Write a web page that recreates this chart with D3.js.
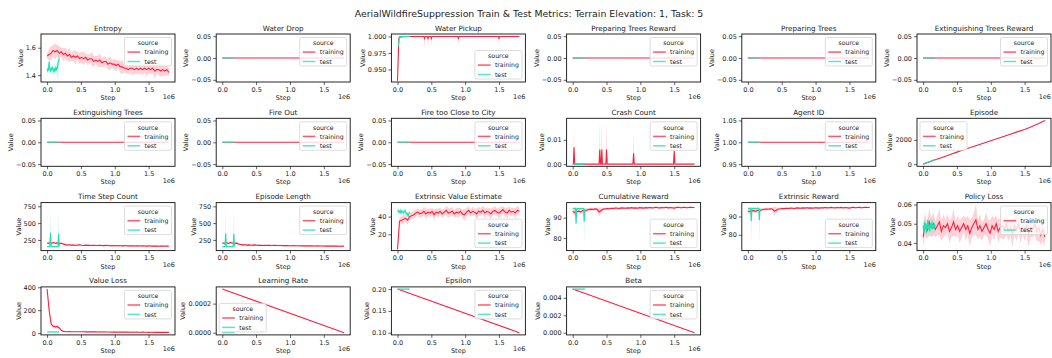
<!DOCTYPE html>
<html><head><meta charset="utf-8">
<script src="https://cdn.jsdelivr.net/npm/d3@7"></script>
<style>
body{margin:0;background:#fff}
svg{display:block}
text{font-family:"DejaVu Sans",sans-serif;fill:#222}
</style>
</head><body>
<svg id="c" width="1052" height="358"></svg>
<script>
// ---------------- DATA ----------------
const chartTitle = "AerialWildfireSuppression Train & Test Metrics: Terrain Elevation: 1, Task: 5";
const seriesNames = ["training", "test"];
const seriesColors = ["#ff1f3d", "#1fe0b0"];
const xTickValues = [0, 5e5, 1e6, 1.5e6];
const xTickLabels = ["0.0", "0.5", "1.0", "1.5"];
const xDomain = [-9e4, 1.89e6];

const trainStep = [0,3e4,6e4,9e4,12e4,15e4,18e4,21e4,24e4,27e4,30e4,33e4,36e4,39e4,42e4,45e4,48e4,51e4,54e4,57e4,60e4,63e4,66e4,69e4,72e4,75e4,78e4,81e4,84e4,87e4,90e4,93e4,96e4,99e4,102e4,105e4,108e4,111e4,114e4,117e4,120e4,123e4,126e4,129e4,132e4,135e4,138e4,141e4,144e4,147e4,150e4,153e4,156e4,159e4,162e4,165e4,168e4,171e4,174e4,177e4,180e4];
const testStep = [0,1e4,2e4,3e4,4e4,5e4,6e4,7e4,8e4,9e4,10e4,11e4,12e4,13e4,14e4,15e4,16e4,17e4,18e4];
const flatTrainStep = [0, 18e5];
const flatTestStep = [0, 18e4];
const flatZero = [0, 0];
const flatOne = [1, 1];

// Entropy
const entropyTrain = [1.54,1.55,1.56,1.58,1.57,1.58,1.56,1.57,1.55,1.56,1.54,1.55,1.53,1.54,1.53,1.54,1.52,1.53,1.52,1.53,1.51,1.52,1.52,1.50,1.51,1.50,1.51,1.49,1.50,1.50,1.48,1.49,1.48,1.48,1.47,1.48,1.46,1.46,1.45,1.45,1.44,1.45,1.45,1.44,1.45,1.44,1.45,1.44,1.45,1.44,1.45,1.44,1.45,1.43,1.44,1.44,1.43,1.44,1.43,1.44,1.42];
const entropyTrainSpread = [0.02,0.04,0.05,0.04,0.06,0.04,0.05,0.03,0.05,0.04,0.04,0.05,0.03,0.04,0.05,0.03,0.04,0.04,0.05,0.03,0.04,0.03,0.05,0.04,0.03,0.04,0.05,0.03,0.04,0.03,0.04,0.05,0.03,0.04,0.04,0.03,0.04,0.05,0.03,0.04,0.03,0.04,0.05,0.03,0.04,0.03,0.04,0.04,0.03,0.05,0.04,0.03,0.04,0.05,0.03,0.04,0.04,0.05,0.03,0.04,0.03];
const entropyTest = [1.45,1.43,1.44,1.50,1.44,1.43,1.45,1.44,1.46,1.44,1.42,1.45,1.43,1.46,1.44,1.45,1.48,1.50,1.52];
const entropyTestSpread = [0.02,0.03,0.03,0.04,0.03,0.02,0.03,0.04,0.03,0.04,0.03,0.03,0.04,0.03,0.04,0.06,0.16,0.08,0.04];

// Water Pickup
const waterStep = [0,1e4,2e4,3e4,10e4,39e4,40e4,41e4,44e4,45e4,46e4,49e4,50e4,51e4,89e4,90e4,91e4,149e4,150e4,151e4,180e4];
const waterTrain = [0.933,0.965,0.997,0.999,1,1,0.997,1,1,0.997,1,1,0.997,1,1,0.997,1,1,0.997,1,1];
const waterTrainLo = [0.933,0.95,0.99,0.998,1,1,0.982,1,1,0.982,1,1,0.985,1,1,0.986,1,1,0.985,1,1];
const waterTrainHi = [0.933,0.98,1,1,1,1,1,1,1,1,1,1,1,1,1,1,1,1,1,1,1];
const waterTestStep = [1e4,3e4,10e4,18e4];
const waterTest = [0.985,1,1,1];

// Crash Count
const crashStep = [0,1e4,2e4,3e4,4e4,10e4,20e4,30e4,39e4,40e4,41e4,42e4,43e4,44e4,45e4,49e4,50e4,51e4,60e4,89e4,90e4,91e4,100e4,149e4,150e4,151e4,160e4,180e4];
const crashTrain = [0,0,0.007,0,0,0,0,0,0,0.006,0,0,0.006,0,0,0,0.006,0,0,0,0.0045,0,0,0,0.0055,0,0,0];
const crashTrainHi = [0,0,0.014,0,0,0,0,0,0,0.018,0,0,0.018,0,0,0,0.017,0,0,0,0.014,0,0,0,0.0055,0,0,0];

// Episode
const episodeStep = [0,1e5,2e5,3e5,4e5,5e5,6e5,7e5,8e5,9e5,10e5,11e5,12e5,13e5,14e5,15e5,16e5,17e5,18e5];
const episodeTrain = [0,200,400,590,790,990,1180,1370,1560,1750,1930,2120,2300,2490,2680,2860,3090,3330,3600];
const episodeTestStep = [0,5e4,10e4,15e4,18e4];
const episodeTest = [0,110,220,330,400];

// Time Step Count
const timeStepTrain = [200,205,198,210,200,205,195,200,190,180,175,178,172,175,170,172,178,170,168,172,169,171,167,170,168,166,169,167,165,168,166,164,167,165,163,166,164,162,165,163,161,164,162,160,163,161,159,162,160,158,161,159,157,160,158,156,159,157,155,158,155];
const timeStepTrainSpread = [15,20,18,25,15,20,18,15,20,15,12,10,12,14,10,12,15,10,12,10,11,12,10,13,10,12,11,10,12,11,10,12,11,10,12,10,11,12,10,11,10,12,11,10,12,11,10,12,11,10,11,12,10,11,12,10,11,10,12,11,10];
const timeStepTest = [150,150,152,148,150,355,150,148,152,150,149,151,150,148,150,152,150,340,150];
const timeStepTestLo = [145,145,147,143,145,150,145,143,147,145,144,146,145,143,145,147,145,150,145];
const timeStepTestHi = [155,155,157,153,155,760,155,153,157,155,154,156,155,153,155,157,155,740,155];

// Episode Length
const epLenTrain = [205,200,208,198,212,203,196,202,188,182,176,177,173,176,171,173,176,171,169,171,168,170,168,169,167,167,168,166,166,167,165,165,166,164,164,165,163,163,164,162,162,163,161,161,162,160,160,161,159,159,160,158,158,159,157,157,158,156,156,157,155];
const epLenTrainSpread = [18,22,15,25,18,20,15,18,20,15,12,11,13,12,10,12,14,11,12,10,12,11,10,13,11,12,10,11,12,10,11,12,10,11,12,10,11,12,10,11,10,12,11,10,12,11,10,12,11,10,11,12,10,11,12,10,11,10,12,11,10];
const epLenTest = [150,151,149,150,148,350,150,151,149,150,152,148,150,151,149,150,151,342,150];
const epLenTestLo = [145,146,144,145,143,150,145,146,144,145,147,143,145,146,144,145,146,150,145];
const epLenTestHi = [155,156,154,155,153,755,155,156,154,155,157,153,155,156,154,155,156,745,155];

// Extrinsic Value Estimate
const valueEstTrain = [3,35,36,37,38,36,40,41,42,44,45,43,44,46,43,45,44,46,42,45,44,46,43,45,47,44,45,46,43,45,44,46,43,42,45,47,44,46,45,43,46,45,47,44,46,45,43,46,47,45,44,46,48,45,44,47,45,46,44,47,46];
const valueEstTrainSpread = [1,5,4,5,4,5,4,4,5,4,4,5,4,5,6,4,5,4,6,4,5,4,5,4,5,6,4,5,4,5,6,4,5,7,4,5,4,5,4,6,5,4,5,6,4,5,6,4,5,4,6,5,4,5,6,4,5,4,6,5,4];
const valueEstTest = [46,47,45,46,44,47,45,46,45,44,46,47,45,43,44,42,41,44,45];
const valueEstTestSpread = [2,3,2,3,2,3,2,2,3,2,3,2,3,2,3,2,3,2,2];

// Cumulative Reward
const cumRewardTrain = [93,92.5,93,93.2,92.8,93.5,93.3,93.8,94,94.2,94,94.3,94.1,92.8,93.5,94.2,94.3,94.5,94.4,94.6,94.5,94.7,94.6,94.5,94.8,94.7,94.6,94.8,94.7,94.9,94.7,94.8,94.6,94.9,94.8,94.7,94.9,94.8,95,94.8,94.9,95.1,94.9,94.8,95,94.9,95.1,94.8,95,94.9,94.7,95,95.1,94.9,95,95.1,94.9,95,95.1,95,95];
const cumRewardTrainSpread = [1,1.5,1.2,1,1.3,1,0.8,0.9,0.7,0.8,0.7,0.6,0.7,2.2,1.5,0.6,0.7,0.5,0.6,0.5,0.6,0.5,0.6,0.7,0.5,0.6,0.5,0.6,0.5,0.4,0.6,0.5,0.6,0.4,0.5,0.6,0.4,0.5,0.4,0.5,0.4,0.5,0.4,0.5,0.4,0.5,0.4,0.5,0.4,0.5,0.8,0.4,0.5,0.4,0.5,0.4,0.5,0.4,0.5,0.4,0.4];
const cumRewardTest = [94.5,94.6,94.4,94.5,94.6,87,94.5,94.4,94.6,94.5,94.3,94.6,94.5,94.4,94.6,94.5,94.5,88,94.5];
const cumRewardTestLo = [94,94.1,93.9,94,94.1,80,94,93.9,94.1,94,93.8,94.1,94,93.9,94.1,94,94,75,94];
const cumRewardTestHi = [95,95.1,94.9,95,95.1,94.6,95,94.9,95.1,95,94.8,95.1,95,94.9,95.1,95,95,94.6,95];

// Extrinsic Reward
const extRewardTrain = [93,92.6,93.1,93.2,92.9,93.4,93.3,93.7,94,94.1,94,94.2,94.1,93,93.4,94.1,94.2,94.4,94.3,94.5,94.4,94.6,94.5,94.4,94.7,94.6,94.5,94.7,94.6,94.8,94.6,94.7,94.5,94.8,94.7,94.6,94.8,94.7,94.9,94.7,94.8,95,94.8,94.7,94.9,94.8,95,94.7,94.9,94.8,94.6,94.9,95,94.8,94.9,95,94.8,94.9,95,94.9,94.9];
const extRewardTrainSpread = [1,1.4,1.2,1,1.3,1,0.8,0.9,0.7,0.8,0.7,0.6,0.7,2.5,1.6,0.6,0.7,0.5,0.6,0.5,0.6,0.5,0.6,0.7,0.5,0.6,0.5,0.6,0.5,0.4,0.6,0.5,0.6,0.4,0.5,0.6,0.4,0.5,0.4,0.5,0.4,0.5,0.4,0.5,0.4,0.5,0.4,0.5,0.4,0.5,0.8,0.4,0.5,0.4,0.5,0.4,0.5,0.4,0.5,0.4,0.4];
const extRewardTest = [94.4,94.5,94.3,94.5,94.6,87.5,94.5,94.3,94.6,94.4,94.3,94.5,94.4,94.3,94.6,94.4,94.5,88,94.4];
const extRewardTestLo = [93.9,94,93.8,94,94.1,72.5,94,93.8,94.1,93.9,93.8,94,93.9,93.8,94.1,93.9,94,75,93.9];
const extRewardTestHi = [94.9,95,94.8,95,95.1,94.5,95,94.8,95.1,94.9,94.8,95,94.9,94.8,95.1,94.9,95,94.5,94.9];

// Policy Loss
const policyTrain = [0.043,0.050,0.046,0.051,0.048,0.050,0.047,0.049,0.051,0.046,0.049,0.048,0.050,0.046,0.048,0.051,0.047,0.049,0.046,0.048,0.050,0.047,0.049,0.045,0.048,0.050,0.052,0.047,0.049,0.046,0.048,0.050,0.047,0.045,0.049,0.047,0.050,0.046,0.048,0.049,0.047,0.050,0.046,0.048,0.045,0.049,0.047,0.050,0.046,0.048,0.047,0.049,0.045,0.048,0.047,0.050,0.046,0.048,0.044,0.047,0.043];
const policyTrainSpread = [0.005,0.006,0.004,0.007,0.005,0.006,0.004,0.005,0.007,0.005,0.006,0.004,0.005,0.006,0.005,0.007,0.004,0.005,0.006,0.005,0.004,0.006,0.005,0.007,0.005,0.006,0.008,0.005,0.006,0.005,0.004,0.006,0.005,0.007,0.005,0.006,0.004,0.006,0.005,0.007,0.005,0.006,0.005,0.004,0.007,0.005,0.006,0.005,0.006,0.004,0.006,0.005,0.007,0.005,0.004,0.006,0.005,0.007,0.005,0.006,0.005];
const policyTest = [0.049,0.046,0.051,0.047,0.050,0.045,0.049,0.052,0.047,0.049,0.046,0.050,0.048,0.051,0.047,0.049,0.048,0.050,0.048];
const policyTestSpread = [0.003,0.004,0.003,0.005,0.003,0.004,0.003,0.004,0.005,0.003,0.004,0.003,0.004,0.003,0.005,0.004,0.003,0.004,0.003];

// Value Loss
const valueLossTrain = [385,200,80,60,55,58,45,25,15,14,13,14,13,12,13,12,13,12,12,11,12,11,12,11,11,10,11,10,11,10,10,10,9,10,9,10,9,9,10,9,9,8,9,8,9,8,8,9,8,8,7,8,8,7,8,7,7,8,7,7,7];
const valueLossTrainSpread = [5,20,15,12,15,18,10,6,4,3,2,2,2,2,2,2,2,2,2,2,2,2,2,2,2,2,2,2,2,2,2,2,2,2,2,2,2,2,2,2,2,2,2,2,2,2,2,2,2,2,2,2,2,2,2,2,2,2,2,2,2];
const valueLossTest = [8,10,12,9,11,10,12,9,10,11,10,9,12,10,11,10,9,11,10];

// Learning Rate, Epsilon, Beta
const lrTrain = [3e-4, 0];
const lrTest = [0, 0];
const epsilonTrain = [0.2, 0.1];
const epsilonTest = [0.2, 0.2];
const betaTrain = [0.005, 0];
const betaTest = [0.005, 0.005];

// Panel titles, y domains, ticks, tick labels, legend locations
const panelTitles = ["Entropy","Water Drop","Water Pickup","Preparing Trees Reward","Preparing Trees","Extinguishing Trees Reward",
  "Extinguishing Trees","Fire Out","Fire too Close to City","Crash Count","Agent ID","Episode",
  "Time Step Count","Episode Length","Extrinsic Value Estimate","Cumulative Reward","Extrinsic Reward","Policy Loss",
  "Value Loss","Learning Rate","Epsilon","Beta"];
const zeroDomain = [-0.055, 0.055], zeroTicks = [-0.05, 0, 0.05], zeroLabels = ["\u22120.05","0.00","0.05"];
const panelYDomains = [[1.35,1.70], zeroDomain, [0.931,1.0037], zeroDomain, zeroDomain, zeroDomain,
  zeroDomain, zeroDomain, zeroDomain, [-0.0009,0.0189], [0.945,1.055], [-180,3780],
  [91,805], [91,805], [1.6,55.8], [73.75,97.4], [71.4,97.6], [0.036,0.061],
  [-15,403], [-0.000015,0.000315], [0.095,0.205], [-0.00025,0.00525]];
const panelYTicks = [[1.4,1.6], zeroTicks, [0.95,0.975,1.0], zeroTicks, zeroTicks, zeroTicks,
  zeroTicks, zeroTicks, zeroTicks, [0,0.01], [0.95,1,1.05], [0,2000],
  [250,500,750], [250,500,750], [20,40], [80,90], [80,90], [0.04,0.05,0.06],
  [0,200,400], [0,0.0002], [0.1,0.15,0.2], [0,0.002,0.004]];
const panelYLabels = [["1.4","1.6"], zeroLabels, ["0.950","0.975","1.000"], zeroLabels, zeroLabels, zeroLabels,
  zeroLabels, zeroLabels, zeroLabels, ["0.00","0.01"], ["0.95","1.00","1.05"], ["0","2000"],
  ["250","500","750"], ["250","500","750"], ["20","40"], ["80","90"], ["80","90"], ["0.04","0.05","0.06"],
  ["0","200","400"], ["0.0000","0.0002"], ["0.10","0.15","0.20"], ["0.000","0.002","0.004"]];
const legendLocs = ["upper right","upper right","lower right","upper right","upper right","upper right",
  "upper right","upper right","upper right","upper right","upper right","upper left",
  "upper right","upper right","lower right","lower right","lower right","upper right",
  "upper right","lower left","upper right","upper right"];

// Series assembled from the named arrays above
function S(x, y, opt) { return Object.assign({x, y}, opt || {}); }
const flatTrain0 = S(flatTrainStep, flatZero), flatTest0 = S(flatTestStep, flatZero);
const panelSeries = [
  [S(trainStep, entropyTrain, {spread: entropyTrainSpread}), S(testStep, entropyTest, {spread: entropyTestSpread})],
  [flatTrain0, flatTest0],
  [S(waterStep, waterTrain, {lo: waterTrainLo, hi: waterTrainHi}), S(waterTestStep, waterTest)],
  [flatTrain0, flatTest0],
  [flatTrain0, flatTest0],
  [flatTrain0, flatTest0],
  [flatTrain0, flatTest0],
  [flatTrain0, flatTest0],
  [flatTrain0, flatTest0],
  [S(crashStep, crashTrain, {hi: crashTrainHi}), flatTest0],
  [S(flatTrainStep, flatOne), S(flatTestStep, flatOne)],
  [S(episodeStep, episodeTrain), S(episodeTestStep, episodeTest)],
  [S(trainStep, timeStepTrain, {spread: timeStepTrainSpread}), S(testStep, timeStepTest, {lo: timeStepTestLo, hi: timeStepTestHi})],
  [S(trainStep, epLenTrain, {spread: epLenTrainSpread}), S(testStep, epLenTest, {lo: epLenTestLo, hi: epLenTestHi})],
  [S(trainStep, valueEstTrain, {spread: valueEstTrainSpread}), S(testStep, valueEstTest, {spread: valueEstTestSpread})],
  [S(trainStep, cumRewardTrain, {spread: cumRewardTrainSpread}), S(testStep, cumRewardTest, {lo: cumRewardTestLo, hi: cumRewardTestHi})],
  [S(trainStep, extRewardTrain, {spread: extRewardTrainSpread}), S(testStep, extRewardTest, {lo: extRewardTestLo, hi: extRewardTestHi})],
  [S(trainStep, policyTrain, {spread: policyTrainSpread}), S(testStep, policyTest, {spread: policyTestSpread})],
  [S(trainStep, valueLossTrain, {spread: valueLossTrainSpread}), S(testStep, valueLossTest)],
  [S(flatTrainStep, lrTrain), S(flatTestStep, lrTest)],
  [S(flatTrainStep, epsilonTrain), S(flatTestStep, epsilonTest)],
  [S(flatTrainStep, betaTrain), S(flatTestStep, betaTest)]
];

// ---------------- DRAW ----------------
const svg = d3.select("#c");
const W = 134, H = 48;
const colLeft = i => 41 + i * 175.2;
const rowTop = j => 34 + j * 84.3;

svg.append("text").attr("x", 529).attr("y", 16.5).attr("text-anchor", "middle")
  .style("font-size", "9.4px").text(chartTitle);

panelTitles.forEach((title, k) => {
  const col = k % 6, row = Math.floor(k / 6);
  const g = svg.append("g").attr("transform", `translate(${colLeft(col)},${rowTop(row)})`);
  const x = d3.scaleLinear().domain(xDomain).range([0, W]);
  const y = d3.scaleLinear().domain(panelYDomains[k]).range([H, 0]);

  const cid = "clip" + k;
  g.append("clipPath").attr("id", cid).append("rect").attr("width", W).attr("height", H);
  const plot = g.append("g").attr("clip-path", `url(#${cid})`);

  panelSeries[k].forEach((s, si) => {
    const pts = s.x.map((xv, i) => {
      const yv = s.y[i];
      let lo = yv, hi = yv;
      if (s.spread) { lo = yv - s.spread[i]; hi = yv + s.spread[i]; }
      if (s.lo) lo = s.lo[i];
      if (s.hi) hi = s.hi[i];
      return {x: xv, y: yv, lo, hi};
    });
    if (s.spread || s.lo || s.hi) {
      plot.append("path").datum(pts)
        .attr("d", d3.area().x(d => x(d.x)).y0(d => y(d.lo)).y1(d => y(d.hi)))
        .attr("fill", seriesColors[si]).attr("fill-opacity", 0.2).attr("stroke", "none");
    }
    plot.append("path").datum(pts)
      .attr("d", d3.line().x(d => x(d.x)).y(d => y(d.y)))
      .attr("fill", "none").attr("stroke", seriesColors[si]).attr("stroke-width", 1.1);
  });

  // x axis
  const xa = g.append("g").attr("transform", `translate(0,${H})`)
    .call(d3.axisBottom(x).tickValues(xTickValues).tickFormat((d, i) => xTickLabels[i]).tickSize(3).tickPadding(2));
  xa.select(".domain").remove();
  xa.selectAll("text").style("font-size", "6.5px").attr("fill", "#222");
  xa.selectAll("line").attr("stroke", "#222").attr("stroke-width", 0.7);

  // y axis
  const ya = g.append("g")
    .call(d3.axisLeft(y).tickValues(panelYTicks[k]).tickFormat((d, i) => panelYLabels[k][i]).tickSize(3).tickPadding(2));
  ya.select(".domain").remove();
  ya.selectAll("text").style("font-size", "6.5px").attr("fill", "#222");
  ya.selectAll("line").attr("stroke", "#222").attr("stroke-width", 0.7);

  // frame
  g.append("rect").attr("width", W).attr("height", H).attr("fill", "none")
    .attr("stroke", "#111").attr("stroke-width", 0.9);

  // titles and labels
  g.append("text").attr("x", W / 2).attr("y", -3.5).attr("text-anchor", "middle")
    .style("font-size", "7.2px").text(title);
  g.append("text").attr("x", W / 2).attr("y", H + 18).attr("text-anchor", "middle")
    .style("font-size", "6.5px").text("Step");
  g.append("text").attr("x", W).attr("y", H + 16.5).attr("text-anchor", "end")
    .style("font-size", "6.5px").text("1e6");
  const bb = ya.node().getBBox();
  g.append("text").attr("transform", `translate(${bb.x - 3},${H / 2}) rotate(-90)`)
    .attr("text-anchor", "middle").style("font-size", "6.5px").text("Value");

  // legend
  const loc = legendLocs[k];
  const lw = 47, lh = 28.5;
  const lx = loc.includes("right") ? W - 3.5 - lw : 3;
  const ly = loc.includes("upper") ? 3.5 : H - 3 - lh;
  const L = g.append("g").attr("transform", `translate(${lx},${ly})`);
  L.append("rect").attr("width", lw).attr("height", lh).attr("rx", 1.5)
    .attr("fill", "#fff").attr("fill-opacity", 0.8).attr("stroke", "#d4d4d4").attr("stroke-width", 0.8);
  L.append("text").attr("x", lw / 2).attr("y", 7.8).attr("text-anchor", "middle")
    .style("font-size", "6.2px").text("source");
  seriesNames.forEach((nm, i) => {
    const yy = 14.6 + 9.4 * i;
    L.append("line").attr("x1", 3).attr("x2", 15.7).attr("y1", yy).attr("y2", yy)
      .attr("stroke", seriesColors[i]).attr("stroke-width", 1.5).attr("stroke-opacity", 0.75);
    L.append("text").attr("x", 20).attr("y", yy + 2.2).style("font-size", "6.2px").text(nm);
  });
});
</script>
</body></html>
